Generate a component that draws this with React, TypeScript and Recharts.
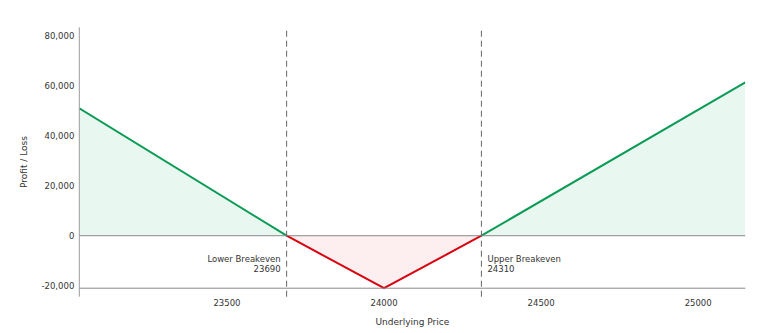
import React from "react";
import {
  ComposedChart,
  Area,
  XAxis,
  YAxis,
  ReferenceLine,
  Label,
} from "recharts";

const prices = [23030, 23690, 24000, 24310, 25150];
const profitValues = [51000, 0, null, 0, 61400];
const lossValues = [null, 0, -21000, 0, null];
const breakevens = [23690, 24310];
const breakevenNames = ["Lower Breakeven", "Upper Breakeven"];
const xTicks = [23500, 24000, 24500, 25000];
const yTicks = [-20000, 0, 20000, 40000, 60000, 80000];
const xDomain = [23030, 25150];
const yDomain = [-24400, 83400];
const maxLoss = -21000;

const data = prices.map((p, i) => ({
  price: p,
  profit: profitValues[i],
  loss: lossValues[i],
}));

const FONT = "'DejaVu Sans', sans-serif";
const TEXT = "#333333";
const GREEN = "#0a9b55";
const RED = "#d9000f";

const XTick = (props: any) => {
  const { x, y, payload } = props;
  return (
    <text x={x} y={y + 9.5} textAnchor="middle" fontSize={8.5} fontFamily={FONT} fill={TEXT}>
      {payload.value}
    </text>
  );
};

const makeBreakevenLabel = (idx: number) => (props: any) => {
  const vb = props.viewBox || {};
  const left = idx === 0;
  const tx = left ? vb.x - 6 : vb.x + 6;
  const ty = vb.y + 235;
  return (
    <text
      x={tx}
      y={ty}
      textAnchor={left ? "end" : "start"}
      fontSize={8.5}
      fontFamily={FONT}
      fill={TEXT}
    >
      <tspan x={tx} dy={0}>{breakevenNames[idx]}</tspan>
      <tspan x={tx} dy={10}>{String(breakevens[idx])}</tspan>
    </text>
  );
};

export default function App() {
  return (
    <div style={{ width: 767, height: 325 }}>
      <ComposedChart
        width={767}
        height={325}
        data={data}
        margin={{ top: 19.3, right: 29.7, bottom: 6.3, left: 11.3 }}
      >
        <XAxis
          dataKey="price"
          type="number"
          domain={xDomain}
          ticks={xTicks}
          allowDataOverflow
          axisLine={false}
          tickLine={false}
          tickSize={0}
          tickMargin={0}
          height={30}
          tick={<XTick />}
        >
          <Label
            value="Underlying Price"
            position="insideBottom"
            offset={1.5}
            fontSize={9}
            fontFamily={FONT}
            fill={TEXT}
          />
        </XAxis>
        <YAxis
          type="number"
          domain={yDomain}
          ticks={yTicks}
          allowDataOverflow
          width={60}
          axisLine={{ stroke: "#9a9a9a", strokeWidth: 1 }}
          tickLine={false}
          tickSize={3}
          tickMargin={2}
          tickFormatter={(v: number) => v.toLocaleString("en-US")}
          tick={{ fontSize: 8.5, fontFamily: FONT, fill: TEXT }}
        >
          <Label
            value="Profit / Loss"
            angle={-90}
            position="insideLeft"
            offset={5}
            fontSize={9}
            fontFamily={FONT}
            fill={TEXT}
            style={{ textAnchor: "middle" }}
          />
        </YAxis>
        <Area
          type="linear"
          dataKey="profit"
          stroke={GREEN}
          strokeWidth={2}
          fill="#e9f7f1"
          fillOpacity={1}
          isAnimationActive={false}
          dot={false}
          activeDot={false}
        />
        <Area
          type="linear"
          dataKey="loss"
          stroke={RED}
          strokeWidth={2}
          fill="#fdefef"
          fillOpacity={1}
          isAnimationActive={false}
          dot={false}
          activeDot={false}
        />
        <ReferenceLine y={0} stroke="#8a8a8a" strokeWidth={1} />
        <ReferenceLine y={maxLoss} stroke="#8a8a8a" strokeWidth={1} />
        {breakevens.map((b, i) => (
          <ReferenceLine
            key={b}
            x={b}
            stroke="#666666"
            strokeWidth={1}
            strokeDasharray="6 4"
            label={makeBreakevenLabel(i)}
          />
        ))}
      </ComposedChart>
    </div>
  );
}
